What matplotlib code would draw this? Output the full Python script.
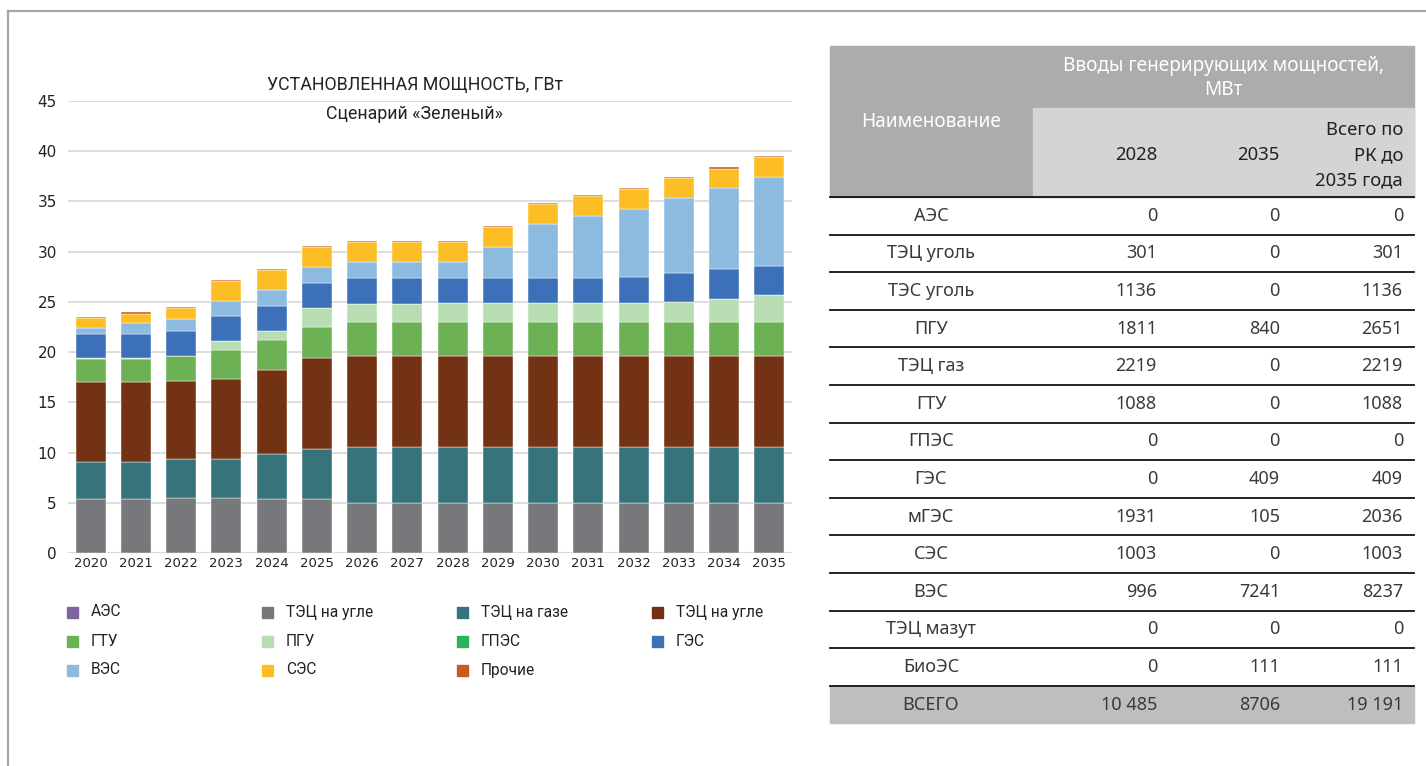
import matplotlib
matplotlib.use("Agg")
import matplotlib.pyplot as plt
from matplotlib.patches import Rectangle
from matplotlib import font_manager
import numpy as np

# chart data (GW)
years = [str(y) for y in range(2020, 2036)]
series_names = ["АЭС", "ТЭЦ на угле", "ТЭЦ на газе", "ТЭЦ на угле", "ГТУ", "ПГУ",
                "ГПЭС", "ГЭС", "ВЭС", "СЭС", "Прочие"]
series_colors = ["#8064A2", "#77787B", "#37737A", "#733214", "#6DB155", "#B8DDB3",
                 "#2BB35E", "#3C71BA", "#8DBBE0", "#FDBD25", "#C55A22"]

aes = [0] * 16
tec_coal = [5.4, 5.4, 5.5, 5.5, 5.4, 5.4, 5.0, 5.0, 5.0, 5.0, 5.0, 5.0, 5.0, 5.0, 5.0, 5.0]
tec_gas = [3.7, 3.7, 3.9, 3.9, 4.5, 5.0, 5.6, 5.6, 5.6, 5.6, 5.6, 5.6, 5.6, 5.6, 5.6, 5.6]
tes_coal = [7.9, 7.9, 7.75, 7.9, 8.35, 9.0, 9.05, 9.05, 9.05, 9.05, 9.05, 9.05, 9.05, 9.05, 9.05, 9.05]
gtu = [2.3, 2.3, 2.45, 2.95, 3.0, 3.1, 3.3, 3.3, 3.35, 3.35, 3.35, 3.35, 3.35, 3.35, 3.35, 3.35]
pgu = [0.13, 0.13, 0.0, 0.86, 0.83, 1.86, 1.86, 1.86, 1.86, 1.86, 1.86, 1.86, 1.86, 1.96, 2.29, 2.65]
gpes = [0] * 16
ges = [2.42, 2.42, 2.52, 2.49, 2.49, 2.51, 2.52, 2.52, 2.52, 2.52, 2.52, 2.52, 2.65, 2.95, 2.99, 2.92]
ves = [0.6, 1.0, 1.13, 1.49, 1.59, 1.63, 1.62, 1.62, 1.59, 3.08, 5.34, 6.17, 6.77, 7.46, 8.02, 8.86]
ses = [0.96, 0.99, 1.16, 2.02, 2.02, 1.99, 1.99, 1.99, 1.96, 1.99, 2.02, 1.99, 1.99, 1.99, 1.96, 2.02]
other = [0.1, 0.17, 0.1, 0.1, 0.1, 0.12, 0.1, 0.1, 0.1, 0.08, 0.1, 0.08, 0.08, 0.12, 0.12, 0.1]
series = [aes, tec_coal, tec_gas, tes_coal, gtu, pgu, gpes, ges, ves, ses, other]

# table data (MW)
tab_names = ["АЭС", "ТЭЦ уголь", "ТЭС уголь", "ПГУ", "ТЭЦ газ", "ГТУ", "ГПЭС", "ГЭС",
             "мГЭС", "СЭС", "ВЭС", "ТЭЦ мазут", "БиоЭС"]
tab_2028 = ["0", "301", "1136", "1811", "2219", "1088", "0", "0", "1931", "1003", "996", "0", "0"]
tab_2035 = ["0", "0", "0", "840", "0", "0", "0", "409", "105", "0", "7241", "0", "111"]
tab_total = ["0", "301", "1136", "2651", "2219", "1088", "0", "409", "2036", "1003", "8237", "0", "111"]
total_row = ["ВСЕГО", "10 485", "8706", "19 191"]

installed = {f.name for f in font_manager.fontManager.ttflist}
narrow = "Liberation Sans Narrow" if "Liberation Sans Narrow" in installed else "Roboto"
cond_font = [narrow, "DejaVu Sans"]
tab_font = ["Noto Sans", "DejaVu Sans"]

W, H = 1426, 766
fig = plt.figure(figsize=(W / 100, H / 100), dpi=100)

# bar chart
ax = fig.add_axes([68 / W, (H - 553) / H, 724 / W, (553 - 101) / H])
x = np.arange(len(years))
bottom = np.zeros(len(years))
for vals, col in zip(series, series_colors):
    ax.bar(x, vals, 0.66, bottom=bottom, color=col, edgecolor="white", linewidth=0.3, zorder=3)
    bottom += np.array(vals)
ax.set_xlim(-0.5, 15.5)
ax.set_ylim(0, 45)
ax.set_yticks(range(0, 46, 5))
ax.yaxis.grid(True, color="#DADADA", linewidth=1.3, zorder=0)
for s in ax.spines.values():
    s.set_visible(False)
ax.axhline(0, color="#DADADA", linewidth=1.5, zorder=2)
ax.set_xticks(x)
ax.set_xticklabels(years, fontsize=9.5, color="#222222")
ax.tick_params(axis="y", length=0, labelsize=11, colors="#222222", pad=8)
ax.tick_params(axis="x", length=0, pad=3)

# overlay in pixel coords
top = fig.add_axes([0, 0, 1, 1], zorder=5)
top.set_xlim(0, W)
top.set_ylim(H, 0)
top.axis("off")

# outer frame
top.plot([8, W], [10.5, 10.5], color="#A6A6A6", linewidth=1.6)
top.plot([8, 8], [10.5, H], color="#A6A6A6", linewidth=1.6)

top.text(415, 85, "УСТАНОВЛЕННАЯ МОЩНОСТЬ, ГВт", ha="center", va="center",
         fontsize=12.8, family=cond_font, color="#222222")
top.text(415, 114, "Сценарий «Зеленый»", ha="center", va="center",
         fontsize=12.8, family=cond_font, color="#222222")

# legend
for i, (name, col) in enumerate(zip(series_names, series_colors)):
    lx = 67 + (i % 4) * 195
    ly = 612 + (i // 4) * 29
    top.add_patch(Rectangle((lx, ly - 5.5), 11, 11, color=col))
    top.text(lx + 24, ly, name, ha="left", va="center", fontsize=11.2,
             family=cond_font, color="#222222")

# table
tx0, tx1 = 830, 1414
c1 = 1033
col_right = [1157, 1280, 1403]
name_cx = 931
hdr_top, hdr_mid, hdr_bot = 46, 108, 197
row_h = 37.6
top.add_patch(Rectangle((tx0, hdr_top), tx1 - tx0, hdr_bot - hdr_top, color="#ABACAC", zorder=1))
top.add_patch(Rectangle((c1, hdr_mid), tx1 - c1, hdr_bot - hdr_mid, color="#D4D4D4", zorder=1))
top.text((c1 + tx1) / 2, 66, "Вводы генерирующих мощностей,", ha="center", va="center",
         fontsize=13.7, family=tab_font, color="white")
top.text((c1 + tx1) / 2, 90, "МВт", ha="center", va="center",
         fontsize=13.7, family=tab_font, color="white")
top.text(name_cx, 122, "Наименование", ha="center", va="center",
         fontsize=13.7, family=tab_font, color="white")
top.text(col_right[0], 155, "2028", ha="right", va="center", fontsize=13.3, family=tab_font, color="#222222")
top.text(col_right[1], 155, "2035", ha="right", va="center", fontsize=13.3, family=tab_font, color="#222222")
for k, t in enumerate(["Всего по", "РК до", "2035 года"]):
    top.text(col_right[2], 130 + k * 25, t, ha="right", va="center", fontsize=13.3,
             family=tab_font, color="#222222")

top.plot([tx0, tx1], [hdr_bot, hdr_bot], color="#111111", linewidth=1.3)
for r, (nm, a, b, c) in enumerate(zip(tab_names, tab_2028, tab_2035, tab_total)):
    yc = hdr_bot + (r + 0.5) * row_h
    top.text(name_cx, yc, nm, ha="center", va="center", fontsize=13, family=tab_font, color="#3A3A3A")
    for xr, v in zip(col_right, [a, b, c]):
        top.text(xr, yc, v, ha="right", va="center", fontsize=13, family=tab_font, color="#3A3A3A")
    yl = hdr_bot + (r + 1) * row_h
    top.plot([tx0, tx1], [yl, yl], color="#111111", linewidth=1.3)

ty = hdr_bot + len(tab_names) * row_h
top.add_patch(Rectangle((tx0, ty), tx1 - tx0, row_h, color="#BDBEC0", zorder=1))
yc = ty + row_h / 2
top.text(name_cx, yc, total_row[0], ha="center", va="center", fontsize=13, family=tab_font, color="#3A3A3A")
for xr, v in zip(col_right, total_row[1:]):
    top.text(xr, yc, v, ha="right", va="center", fontsize=13, family=tab_font, color="#3A3A3A")

fig.savefig("out.png", dpi=100, facecolor="white")
